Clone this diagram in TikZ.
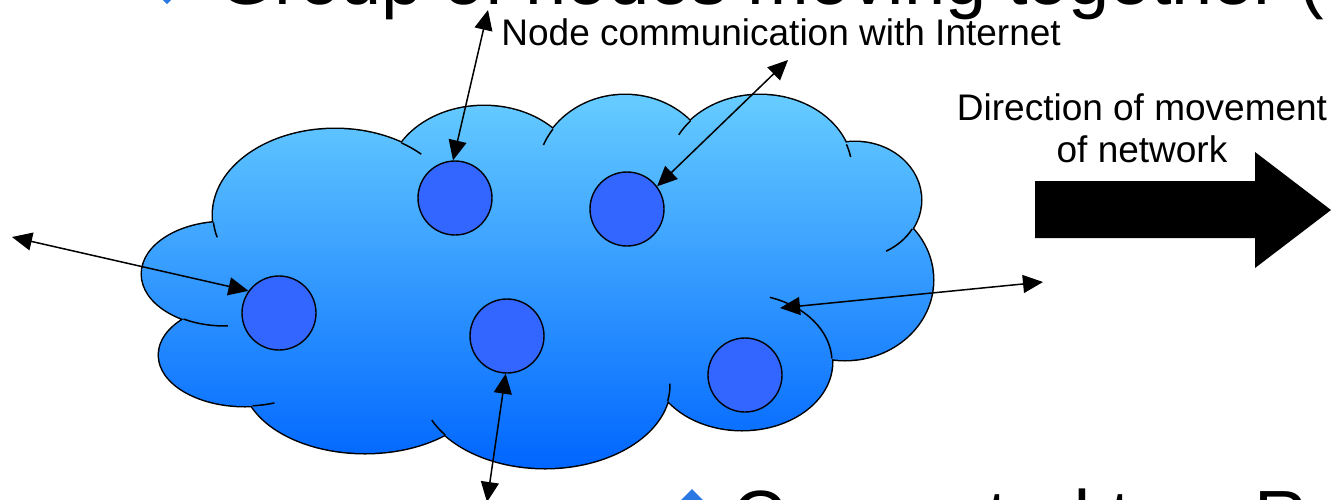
\documentclass[tikz,border=0pt]{standalone}
\usepackage{fontspec}
\setmainfont{Liberation Sans}
\usetikzlibrary{arrows.meta}
\definecolor{vskyblue}{HTML}{66CCFF}
\definecolor{vdeepblue}{HTML}{0066FF}
\definecolor{vnodeblue}{HTML}{3366FF}
\definecolor{vbullet}{HTML}{2A78E4}
% bumps of the cloud
\newcommand{\cloudbumps}{
	(225,274) ellipse [x radius=83, y radius=52]
	(245,355) ellipse [x radius=86, y radius=51]
	(365,378) ellipse [x radius=122, y radius=75]
	(545,385) ellipse [x radius=125, y radius=83]
	(742,362) ellipse [x radius=90, y radius=68]
	(845,280) ellipse [x radius=88, y radius=80]
	(855,200) ellipse [x radius=66, y radius=58]
	(760,170) ellipse [x radius=92, y radius=75]
	(625,175) ellipse [x radius=88, y radius=80]
	(484,182) ellipse [x radius=96, y radius=76]
	(335,215) ellipse [x radius=122, y radius=86]}

\begin{document}
\begin{tikzpicture}[x=0.5pt, y=-0.5pt,
		host/.style={circle, draw=black, line width=0.7pt, fill=vnodeblue, minimum size=37pt, inner sep=0pt},
		comm/.style={{Triangle[length=10pt,width=9pt]}-{Triangle[length=10pt,width=9pt]}, line width=0.75pt},
		rim/.style={line width=0.75pt},
		note/.style={inner sep=0pt, font=\fontsize{18.5}{21}\selectfont},
		bullettext/.style={inner sep=0pt, anchor=base west, font=\fontsize{37}{44}\selectfont}]
		\useasboundingbox (0,0) rectangle (1338,499);
		\clip (0,0) rectangle (1338,499);
		% cloud
		\draw[line width=1.5pt] \cloudbumps;
		\shade[top color=vskyblue, bottom color=vdeepblue] \cloudbumps (540,285) ellipse [x radius=270, y radius=120];
		\draw[rim] (335,215) ++(175:122 and 86) arc[start angle=175, end angle=165, x radius=122, y radius=86];
		\draw[rim] (225,274) ++(120:83 and 52) arc[start angle=120, end angle=88, x radius=83, y radius=52];
		\draw[rim] (245,355) ++(85:86 and 51) arc[start angle=85, end angle=70, x radius=86, y radius=51];
		\draw[rim] (545,385) ++(143:125 and 83) arc[start angle=143, end angle=155, x radius=125, y radius=83];
		\draw[rim] (545,385) ++(11:125 and 83) arc[start angle=11, end angle=-1, x radius=125, y radius=83];
		\draw[rim] (742,362) ++(-3:90 and 68) arc[start angle=-3, end angle=-72, x radius=90, y radius=68];
		\draw[rim] (855,200) ++(30:66 and 58) arc[start angle=30, end angle=62, x radius=66, y radius=58];
		\draw[rim] (760,170) ++(-20:92 and 75) arc[start angle=-20, end angle=-10, x radius=92, y radius=75];
		\draw[rim] (760,170) ++(-139:92 and 75) arc[start angle=-139, end angle=-152, x radius=92, y radius=75];
		\draw[rim] (625,175) ++(-145:88 and 80) arc[start angle=-145, end angle=-158, x radius=88, y radius=80];
		\draw[rim] (335,215) ++(-57:122 and 86) arc[start angle=-57, end angle=-45, x radius=122, y radius=86];
		% nodes in the cloud
		\node[host] (n1) at (455,198) {};
		\node[host] (n2) at (627,209) {};
		\node[host] (n3) at (279,313) {};
		\node[host] (n4) at (507,336) {};
		\node[host] (n5) at (745,375) {};
		% free ends
		\coordinate (top) at (488,10);
		\coordinate (ne) at (788,60);
		\coordinate (west) at (12,237);
		\coordinate (south) at (487,502);
		\coordinate (inside) at (780,308);
		\coordinate (east) at (1043,282);
		\draw[comm] (top) -- (n1.93);
		\draw[comm] (ne) -- (n2.37);
		\draw[comm] (west) -- (n3.144);
		\draw[comm] (south) -- (n4.268);
		\draw[comm] (inside) -- (east);
		% texts
		\node[note, anchor=base west] (inet) at (501,45) {Node communication with Internet};
		\node[note, anchor=north, align=center] (dir) at (1142,93) {Direction of movement\\of network};
		\fill (1035,181) -- (1255,181) -- (1255,152) -- (1331,210) -- (1255,268) -- (1255,238) -- (1035,238) -- cycle;
		\fill[vbullet] (167,-20) -- (179,-8) -- (167,4) -- (155,-8) -- cycle;
		\node[bullettext] (group) at (217,4) {Group of nodes moving together (};
		\fill[vbullet] (692,489) -- (704,501) -- (692,513) -- (680,501) -- cycle;
		\node[bullettext] (router) at (732,542) {Connected to a R};
	\end{tikzpicture}
\end{document}
